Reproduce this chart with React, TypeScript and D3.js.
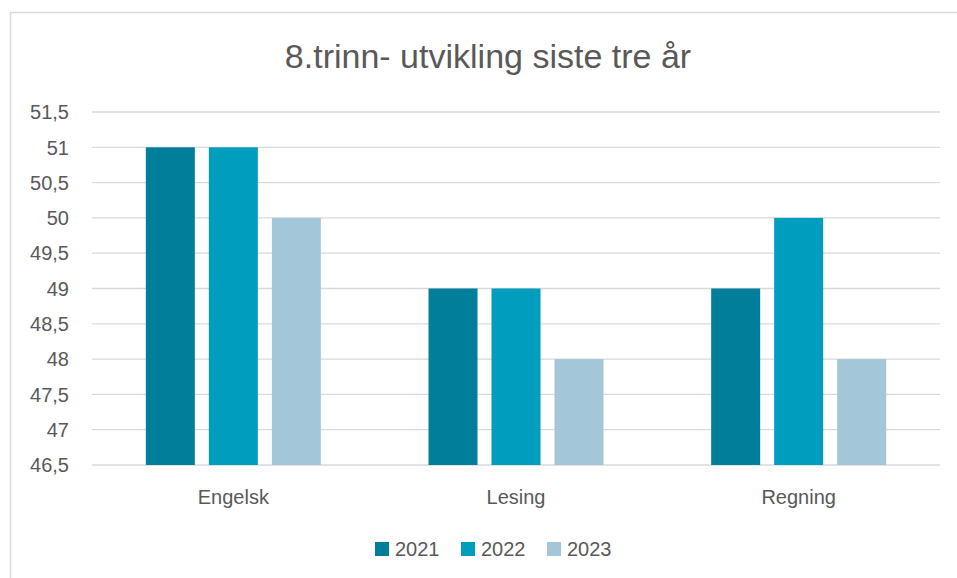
import React from "react";
import * as d3 from "d3";

const categories = ["Engelsk", "Lesing", "Regning"];
const years = ["2021", "2022", "2023"];
const values2021 = [51, 49, 49];
const values2022 = [51, 49, 50];
const values2023 = [50, 48, 48];
const yTicks = [46.5, 47, 47.5, 48, 48.5, 49, 49.5, 50, 50.5, 51, 51.5];
const colors = ["#007E9A", "#009DBE", "#A3C6D8"];

export default function App() {
  const W = 957, H = 578;
  const left = 92, right = 940, top = 112, bottom = 465;
  const series = [values2021, values2022, values2023];
  const x = d3.scaleBand().domain(categories).range([left, right]).paddingInner(0).paddingOuter(0);
  const y = d3.scaleLinear().domain([46.5, 51.5]).range([bottom, top]);
  const barW = 49, gap = 14;
  const groupW = barW * 3 + gap * 2;
  const fmt = (v: number) => String(v).replace(".", ",");
  const font = "'Liberation Sans', Arial, sans-serif";
  const legendX = [375, 461, 547];
  return (
    <svg width={W} height={H} style={{ position: "absolute", left: 0, top: 0, background: "#fff" }}>
      <rect x={0} y={0} width={W} height={H} fill="#fff" />
      <line x1={10} y1={12.5} x2={W} y2={12.5} stroke="#D9D9D9" strokeWidth={1.5} />
      <line x1={10.5} y1={12} x2={10.5} y2={H} stroke="#D9D9D9" strokeWidth={1.5} />
      <text x={488} y={68} textAnchor="middle" fontFamily={font} fontSize={34} fill="#595959">
        8.trinn- utvikling siste tre år
      </text>
      {yTicks.map((t) => (
        <g key={t}>
          <line x1={left} x2={right} y1={y(t)} y2={y(t)} stroke="#D9D9D9" strokeWidth={1.3} />
          <text x={69} y={y(t)} dy="0.36em" textAnchor="end" fontFamily={font} fontSize={20} fill="#595959">
            {fmt(t)}
          </text>
        </g>
      ))}
      {categories.map((c, ci) => {
        const cx = (x(c) as number) + x.bandwidth() / 2;
        const x0 = cx - groupW / 2;
        return (
          <g key={c}>
            {series.map((s, si) => (
              <rect
                key={si}
                x={x0 + si * (barW + gap)}
                y={y(s[ci])}
                width={barW}
                height={y(46.5) - y(s[ci])}
                fill={colors[si]}
              />
            ))}
            <text x={cx} y={497} dy="0.36em" textAnchor="middle" fontFamily={font} fontSize={20} fill="#595959">
              {c}
            </text>
          </g>
        );
      })}
      {years.map((yr, i) => (
        <g key={yr}>
          <rect x={legendX[i]} y={542} width={14} height={14} fill={colors[i]} />
          <text x={legendX[i] + 20} y={549} dy="0.36em" fontFamily={font} fontSize={20} fill="#595959">
            {yr}
          </text>
        </g>
      ))}
    </svg>
  );
}
